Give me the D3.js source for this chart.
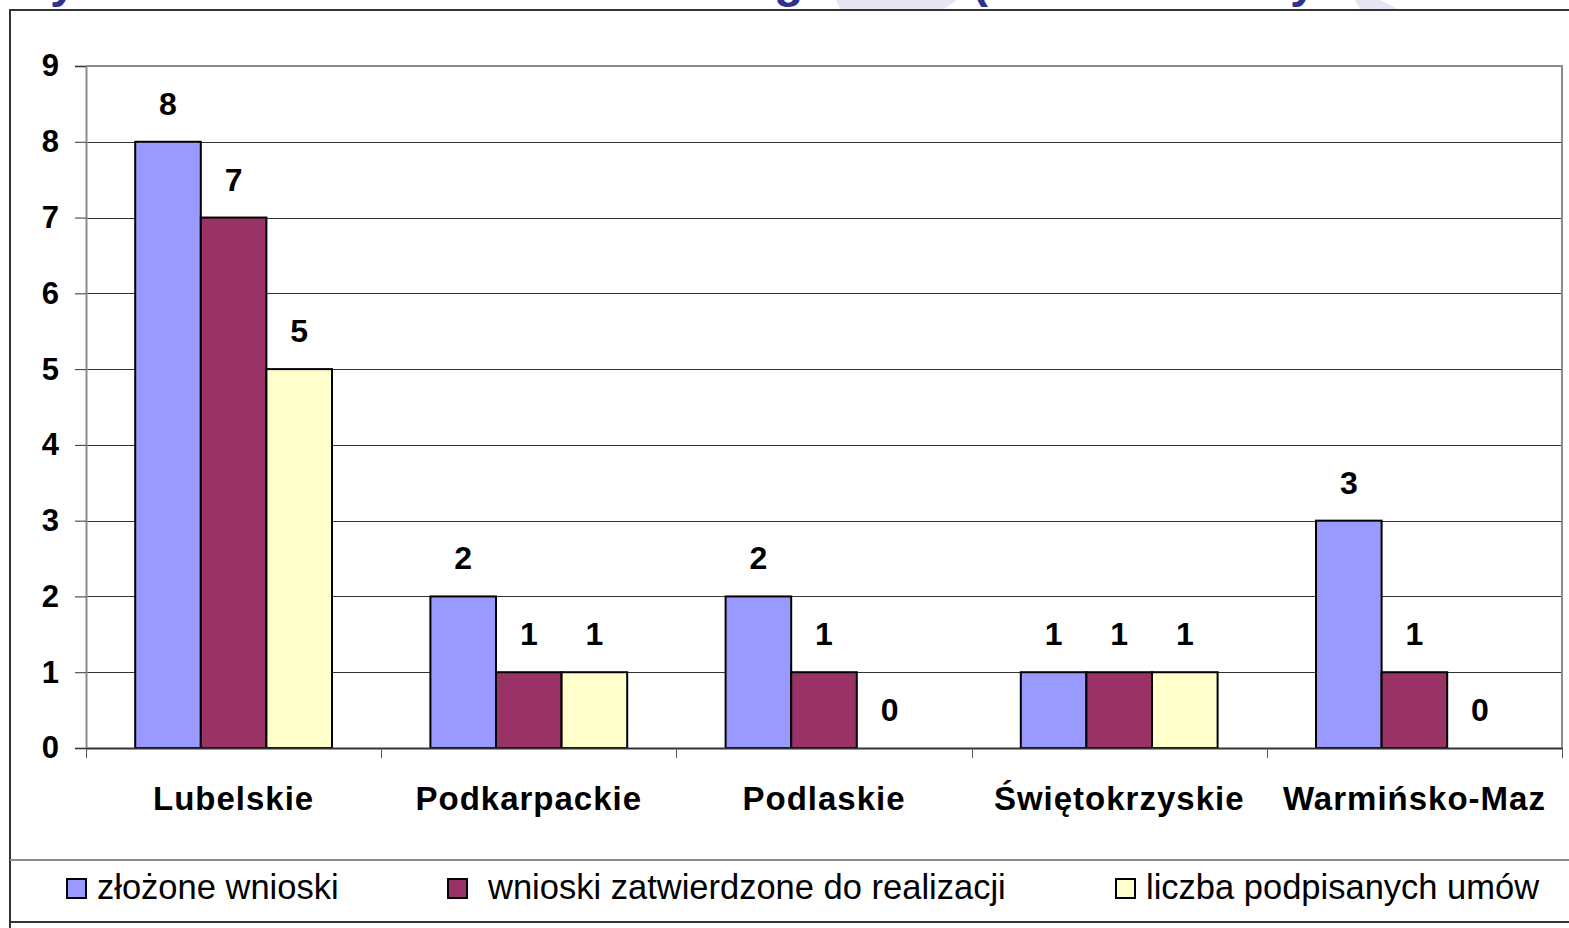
<!DOCTYPE html>
<html>
<head>
<meta charset="utf-8">
<script src="https://cdn.jsdelivr.net/npm/d3@7"></script>
<style>
	html,body{ margin:0; padding:0; background:#ffffff; overflow:hidden; }
	svg{ display:block; }
	text{ font-family:"Liberation Sans",Arial,sans-serif; }
</style>
</head>
<body>
<div id="chart"></div>
<script>
;(function(){
	// -----------------------------------------------------------------
	// Data
	var categories = ['Lubelskie','Podkarpackie','Podlaskie','Świętokrzyskie','Warmińsko-Maz'];
	var seriesNames = ['złożone wnioski','wnioski zatwierdzone do realizacji','liczba podpisanych umów'];
	var zlozone = [8,2,2,1,3];
	var zatwierdzone = [7,1,1,1,1];
	var umowy = [5,1,0,1,0];
	var yTicks = [0,1,2,3,4,5,6,7,8,9];
	var seriesColors = ['#9999ff','#993366','#ffffcc'];

	var width = 1569;
	var height = 928;
	var plot = { left: 86, right: 1562, top: 66, bottom: 748 };

	var svg = d3.select('#chart')
		.append('svg')
		.attr('width',width)
		.attr('height',height);

	// -----------------------------------------------------------------
	// Slide remains above the chart (cut title, watermark)
	var deco = svg.append('g').attr('class','deco');
	deco.append('polygon')
		.attr('points','836,0 957,0 944,9 840,9')
		.attr('fill','#e7e5f3');
	deco.append('polygon')
		.attr('points','1355,0 1380,0 1398,9 1360,9')
		.attr('fill','#e7e5f3');

	var titleBits = [
		{ ch: 'y', x: 50 }
		,{ ch: 'g', x: 774 }
		,{ ch: '(', x: 972 }
		,{ ch: 'y', x: 1290 }
	];
	deco.selectAll('text')
		.data(titleBits)
		.enter()
		.append('text')
		.attr('x',function(d){ return d.x; })
		.attr('y',-3)
		.attr('font-size',48)
		.attr('font-weight','bold')
		.attr('fill','#2e3192')
		.text(function(d){ return d.ch; });

	// -----------------------------------------------------------------
	// Scales
	var x0 = d3.scaleBand()
		.domain(categories)
		.range([plot.left,plot.right])
		.paddingInner(0)
		.paddingOuter(0);

	var x1 = d3.scaleBand()
		.domain([0,1,2])
		.range([0,x0.bandwidth()])
		.paddingInner(0)
		.paddingOuter(0.75);

	var y = d3.scaleLinear()
		.domain([0,9])
		.range([plot.bottom,plot.top]);

	// -----------------------------------------------------------------
	// Gridlines
	svg.append('g')
		.attr('class','grid')
		.selectAll('line')
		.data(yTicks.filter(function(v){ return v > 0 && v < 9; }))
		.enter()
		.append('line')
		.attr('x1',plot.left)
		.attr('x2',plot.right)
		.attr('y1',function(v){ return Math.round(y(v))+0.5; })
		.attr('y2',function(v){ return Math.round(y(v))+0.5; })
		.attr('stroke','#333333')
		.attr('stroke-width',1);

	// plot area border (top and right)
	svg.append('path')
		.attr('d','M'+plot.left+','+(plot.top)+'H'+plot.right+'V'+plot.bottom)
		.attr('fill','none')
		.attr('stroke','#8c8c8c')
		.attr('stroke-width',2);

	// -----------------------------------------------------------------
	// Bars
	var rows = categories.map(function(c,i){
		return { cat: c, values: [zlozone[i],zatwierdzone[i],umowy[i]] };
	});

	var groups = svg.append('g')
		.attr('class','bars')
		.selectAll('g')
		.data(rows)
		.enter()
		.append('g')
		.attr('transform',function(d){ return 'translate('+x0(d.cat)+',0)'; });

	groups.selectAll('rect')
		.data(function(d){ return d.values.map(function(v,k){ return { k: k, v: v }; }); })
		.enter()
		.filter(function(d){ return d.v > 0; })
		.append('rect')
		.attr('x',function(d){ return x1(d.k); })
		.attr('y',function(d){ return y(d.v); })
		.attr('width',x1.bandwidth())
		.attr('height',function(d){ return y(0) - y(d.v); })
		.attr('fill',function(d){ return seriesColors[d.k]; })
		.attr('stroke','#000000')
		.attr('stroke-width',2);

	groups.selectAll('text')
		.data(function(d){ return d.values.map(function(v,k){ return { k: k, v: v }; }); })
		.enter()
		.append('text')
		.attr('x',function(d){ return x1(d.k) + x1.bandwidth()/2; })
		.attr('y',function(d){ return y(d.v) - 27; })
		.attr('text-anchor','middle')
		.attr('font-size',32)
		.attr('font-weight','bold')
		.attr('fill','#000000')
		.text(function(d){ return d.v; });

	// -----------------------------------------------------------------
	// Axes
	var yAxis = d3.axisLeft(y)
		.tickValues(yTicks)
		.tickSize(11)
		.tickPadding(16)
		.tickFormat(d3.format('d'));

	var gy = svg.append('g')
		.attr('class','y-axis')
		.attr('transform','translate('+plot.left+',0)')
		.call(yAxis);
	gy.select('.domain').attr('stroke','#8c8c8c').attr('stroke-width',2);
	gy.selectAll('.tick line').attr('stroke','#333333');
	gy.selectAll('.tick text')
		.attr('font-size',31)
		.attr('font-weight','bold')
		.attr('fill','#000000')
		.attr('font-family','"Liberation Sans",Arial,sans-serif');

	var xAxis = d3.axisBottom(x0)
		.tickSize(0)
		.tickPadding(0);

	var gx = svg.append('g')
		.attr('class','x-axis')
		.attr('transform','translate(0,'+plot.bottom+')')
		.call(xAxis);
	gx.select('.domain').attr('stroke','#333333').attr('stroke-width',2);
	gx.selectAll('.tick text')
		.attr('y',62)
		.attr('dy',0)
		.attr('font-size',33)
		.attr('font-weight','bold')
		.attr('letter-spacing',1)
		.attr('fill','#000000')
		.attr('font-family','"Liberation Sans",Arial,sans-serif');

	// category boundary tick marks
	var bounds = categories.map(function(c){ return x0(c); }).concat([plot.right]);
	gx.append('g')
		.selectAll('line')
		.data(bounds)
		.enter()
		.append('line')
		.attr('x1',function(d){ return Math.round(d)+0.5; })
		.attr('x2',function(d){ return Math.round(d)+0.5; })
		.attr('y1',0)
		.attr('y2',10)
		.attr('stroke','#555555')
		.attr('stroke-width',1);

	// -----------------------------------------------------------------
	// Outer frame and legend
	svg.append('path')
		.attr('d','M10,'+height+'V10H'+width)
		.attr('fill','none')
		.attr('stroke','#333333')
		.attr('stroke-width',2);

	svg.append('line')
		.attr('x1',10).attr('x2',width)
		.attr('y1',860).attr('y2',860)
		.attr('stroke','#8c8c8c')
		.attr('stroke-width',2);

	svg.append('line')
		.attr('x1',10).attr('x2',width)
		.attr('y1',922).attr('y2',922)
		.attr('stroke','#333333')
		.attr('stroke-width',2);

	var legendX = [67,448,1116];
	var legend = svg.append('g')
		.attr('class','legend')
		.selectAll('g')
		.data(seriesNames)
		.enter()
		.append('g')
		.attr('transform',function(d,i){ return 'translate('+legendX[i]+',879)'; });

	legend.append('rect')
		.attr('width',19)
		.attr('height',19)
		.attr('fill',function(d,i){ return seriesColors[i]; })
		.attr('stroke','#000000')
		.attr('stroke-width',2);

	legend.append('text')
		.attr('x',function(d,i){ return i === 1 ? 40 : 30; })
		.attr('y',20)
		.attr('font-size',34.5)
		.attr('fill','#000000')
		.text(function(d){ return d; });
})();
</script>
</body>
</html>
